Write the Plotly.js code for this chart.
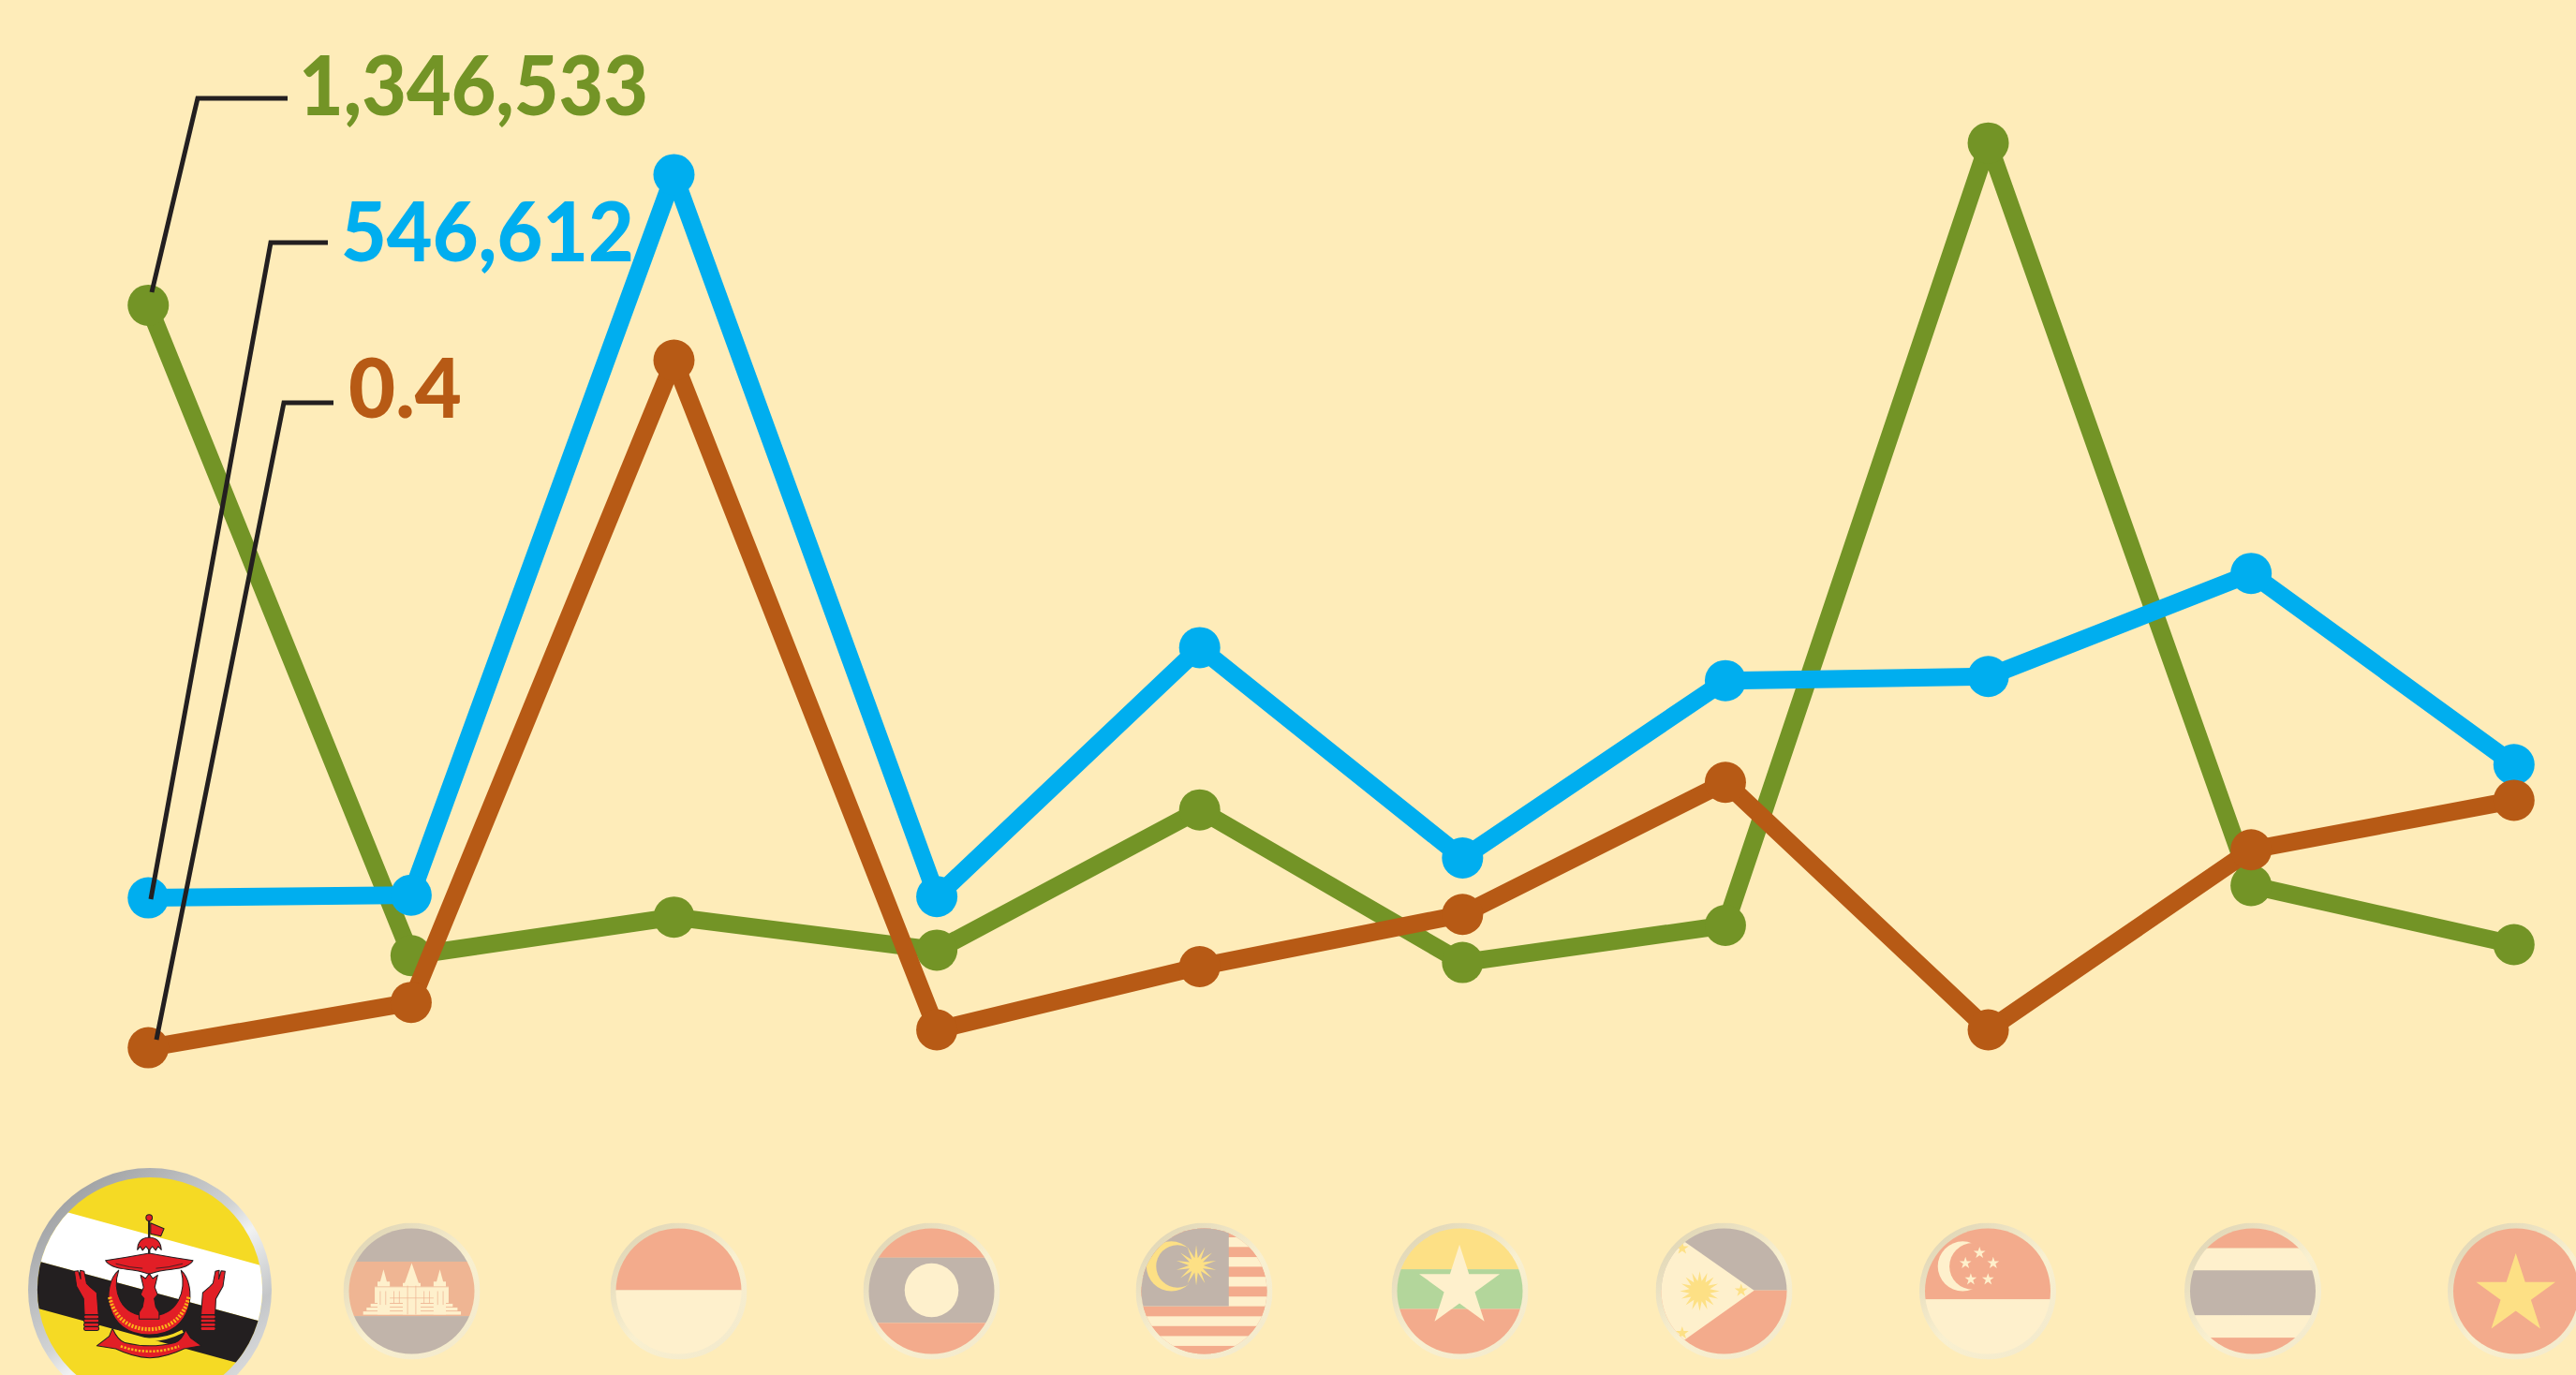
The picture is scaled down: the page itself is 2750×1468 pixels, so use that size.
<!DOCTYPE html>
<html>
<head>
<meta charset="utf-8">
<script src="https://cdn.plot.ly/plotly-3.0.1.min.js"></script>
<style>html,body{margin:0;padding:0;background:#feecb9;overflow:hidden}#chart{width:2750px;height:1468px}</style>
</head>
<body>
<div id="chart"></div>
<script>
// The three series share a relative index (0–100).
const countries = ["Brunei","Cambodia","Indonesia","Laos","Malaysia","Myanmar","Philippines","Singapore","Thailand","Vietnam"];
const seriesGreen  = [77.8,30.5,33.3,30.9,41.1,30.0,32.7,89.6,35.6,31.3];
const seriesBlue   = [34.7,34.9,87.3,34.8,52.9,37.6,50.5,50.8,58.3,44.4];
const seriesOrange = [23.8,27.1,73.8,25.1,29.7,33.5,43.1,25.1,38.2,41.8];
const labelTexts = ["1,346,533","546,612","0.4"];

const W = 2750, H = 1468;
const BG = "#feecb9", GREEN = "#739426", BLUE = "#00aeef", ORANGE = "#b75a15", INK = "#231f20";
const SAL = "#f3ab8c", CRM = "#fef0cc", SLT = "#c1b4aa", YEL = "#fde085", LEAF = "#b3d69b";

function star(cx, cy, R, fill, n, ratio) {
  n = n || 5; ratio = ratio || 0.382; const pts = [];
  for (let i = 0; i < n * 2; i++) {
    const r = i % 2 ? R * ratio : R, a = -Math.PI / 2 + i * Math.PI / n;
    pts.push((cx + r * Math.cos(a)).toFixed(2) + "," + (cy + r * Math.sin(a)).toFixed(2));
  }
  return `<polygon points="${pts.join(" ")}" fill="${fill}"/>`;
}
const rect = (x, y, w, h, f) => `<rect x="${x}" y="${y}" width="${w}" height="${h}" fill="${f}"/>`;

function malaysia() {
  let s = rect(0, 0, 100, 100, SAL);
  for (let i = 0; i < 14; i++) s += rect(0, 3.4 + i * 7.22, 100, 7.22, i % 2 ? CRM : SAL);
  s += rect(0, 0, 68, 61, SLT);
  s += `<circle cx="26" cy="31.8" r="18.2" fill="${YEL}"/><circle cx="30.5" cy="31.8" r="15.6" fill="${SLT}"/>`;
  s += star(44.2, 31.1, 14.8, YEL, 14, 0.36);
  return s;
}
function philippines() {
  let s = rect(0, 0, 100, 49.4, SLT) + rect(0, 49.4, 100, 51, SAL);
  s += `<polygon points="0,0 20.7,13.6 72,49.5 20.7,86 0,100" fill="${CRM}"/>`;
  s += star(32.2, 50, 14.5, YEL, 16, 0.52);
  s += star(19.4, 18.6, 5, YEL) + star(19.4, 80.7, 5, YEL) + star(62.5, 49.5, 5, YEL);
  return s;
}
function singapore() {
  let s = rect(0, 0, 100, 56, SAL) + rect(0, 56, 100, 44, CRM);
  s += `<circle cx="31.7" cy="31.8" r="18.2" fill="${CRM}"/><circle cx="39" cy="31.8" r="17" fill="${SAL}"/>`;
  [[44, 22], [33.7, 29.5], [54, 29.5], [37.6, 41.4], [50.2, 41.4]].forEach(p => { s += star(p[0], p[1], 4.6, CRM); });
  return s;
}
function cambodia() {
  const T = "#efb593";
  let s = rect(0,0,100,28.4,SLT)+rect(0,28.4,100,39.8,T)+rect(0,68.2,100,32,SLT);
  s += `<g fill="${CRM}">
    <rect x="14.5" y="64.8" width="71.5" height="2.4"/><rect x="17" y="62" width="66.5" height="2.2"/>
    <rect x="20" y="59.2" width="60" height="2.2"/><rect x="23" y="46.6" width="54" height="12"/>
    <polygon points="44,46.6 50,29.5 56,46.6"/><rect x="43.5" y="44" width="13" height="23"/>
    <polygon points="26,46.6 29.4,34 32.8,46.6"/><polygon points="67.2,46.6 70.6,34 74,46.6"/>
    <rect x="25" y="43" width="9" height="24"/><rect x="66" y="43" width="9" height="24"/></g>`;
  s += `<g stroke="${T}" stroke-width="0.5" fill="none"><path d="M27,50V60M31,50V60M37,50V59M41,50V59M47,46V67M53,46V67M59,50V59M63,50V59M69,50V60M73,50V60M23,46.8H77M34,55H66"/></g>`;
  return s;
}
function brunei() {
  const RED = "#e21e26", GOLD = "#fbb31a";
  const oS = `stroke="${INK}" stroke-width="0.4" stroke-linejoin="round"`;
  let s = rect(0, 0, 100, 100, "#f5da24");
  s += `<polygon points="0,13.8 100,41.2 100,64.2 0,37.1" fill="#ffffff"/>`;
  s += `<polygon points="0,37.1 100,64.2 100,83.9 0,56.6" fill="${INK}"/>`;
  // pole, flag, umbrella
  s += `<path d="M49.7,20 V46" stroke="${INK}" stroke-width="0.9"/><circle cx="49.7" cy="20.4" r="1.3" fill="${RED}" ${oS}/>`;
  s += `<polygon points="50.3,22.6 55.8,24.9 54.5,28 50.3,27" fill="${RED}" ${oS}/>`;
  s += `<path d="M44.9,33.6 Q45,28.8 49.7,28.5 Q54.4,28.8 54.7,33.6 L53.4,32.2 L52.4,33.8 L51,32.2 L49.7,33.8 L48.4,32.2 L47,33.8 L46,32.2 Z" fill="${RED}" ${oS}/>`;
  // crescent
  s += `<path d="M37.2,42 C30,48 31,68.5 49.7,68.5 C68.4,68.5 69.4,48 62.8,42 C65,50 62,60.8 49.7,60.8 C37.4,60.8 34.6,50 37.2,42 Z" fill="${RED}" ${oS}/>`;
  s += `<path d="M33.5,53 C35.5,62 42,66.2 49.7,66.2 C57.4,66.2 63.9,62 65.9,53" fill="none" stroke="${GOLD}" stroke-width="1.6" stroke-dasharray="0.8 0.6"/>`;
  // wings
  s += `<path d="M31.8,38 Q41,36.6 49.7,35 Q58.4,36.6 67.7,38 Q66,41 59,41.6 Q54,42 49.7,43.6 Q45.4,42 40.6,41.6 Q33.6,41 31.8,38 Z" fill="${RED}" ${oS}/>`;
  s += `<path d="M36,39.3 Q42,41 47,41.2 M63.5,39.3 Q57.5,41 52.5,41.2" stroke="${INK}" stroke-width="0.3" fill="none"/>`;
  // central spike
  s += `<path d="M46.2,44 L48.2,45.4 L49.7,43.4 L51.2,45.4 L53.2,44 L52,49 L53.2,52 L51.8,53.6 L52.4,57 L53.8,59.2 L53.8,62 L45.6,62 L45.6,59.2 L47,57 L47.6,53.6 L46.2,52 L47.4,49 Z" fill="${RED}" ${oS}/>`;
  // hands (left, mirrored about the pole for the right)
  const hand = `<path d="M19,42.4 L20.6,42.2 L21.6,45.6 L21.4,42 L23,42.4 L24,47.4 L25.4,48.8 L28.2,51.2 L28.9,60.2 L23.1,60.2 L22.8,53.7 L19.9,48.6 Z" fill="${RED}" ${oS}/>` +
    [61.2, 62.8, 64.4, 66].map(y => `<rect x="22.9" y="${y - 0.8}" width="6.2" height="1.5" rx="0.7" fill="${RED}" ${oS}/>`).join("");
  s += hand + `<g transform="translate(99.9,0) scale(-1,1)">${hand}</g>`;
  // ribbon
  s += `<path d="M36,67 Q50,74 63.5,67" fill="none" stroke="#f5da24" stroke-width="1.3"/>`;
  s += `<path d="M28.2,73 L33.3,69.1 L34.6,65.9 Q37,71 39.7,71.7 Q45,73 50,73 Q55,73 60.3,71.7 Q63,71 64.7,66.5 L66.7,69.7 L71.2,73 L64,74.2 Q57,77.6 50,78 Q43,77.6 36,74.2 Z" fill="${RED}" ${oS}/>`;
  s += `<path d="M38,73.2 Q50,77.4 62,73.2" fill="none" stroke="${GOLD}" stroke-width="1" stroke-dasharray="0.9 0.6"/>`;
  return s;
}

const flagArt = [
  {cx:160,    r:130, strong:true, art: brunei()},
  {cx:439.5,  r:73, art: cambodia()},
  {cx:724.5,  r:73, art: rect(0,0,100,49.3,SAL)+rect(0,49.3,100,51,CRM)},
  {cx:994.5,  r:73, art: rect(0,0,100,25.5,SAL)+rect(0,25.5,100,47.7,SLT)+rect(0,73.2,100,27,SAL)+`<circle cx="50" cy="49.3" r="19.7" fill="${CRM}"/>`},
  {cx:1285.5, r:73, art: malaysia()},
  {cx:1558.5, r:73, art: rect(0,0,100,34,YEL)+rect(0,34,100,29,LEAF)+rect(0,63,100,37,SAL)+star(49.7,47,31,CRM)},
  {cx:1840.5, r:73, art: philippines()},
  {cx:2122,   r:73, art: singapore()},
  {cx:2405,   r:73, art: rect(0,0,100,18.6,SAL)+rect(0,18.6,100,16.2,CRM)+rect(0,34.8,100,32.9,SLT)+rect(0,67.7,100,16.3,CRM)+rect(0,84,100,16,SAL)},
  {cx:2686,   r:73, art: rect(0,0,100,100,SAL)+star(49.8,52.8,30.5,YEL)}
];
function flagUri(f, i) {
  const stops = f.strong
    ? `<stop offset="0" stop-color="#939598"/><stop offset=".45" stop-color="#d1d3d4"/><stop offset=".55" stop-color="#f1f2f2"/><stop offset=".75" stop-color="#c4c6c8"/><stop offset="1" stop-color="#e6e7e8"/>`
    : `<stop offset="0" stop-color="#ddd3b3"/><stop offset=".55" stop-color="#f9f0d0"/><stop offset="1" stop-color="#f2e9cc"/>`;
  const inner = f.strong ? 46.2 : 45.9;
  const svg = `<svg xmlns="http://www.w3.org/2000/svg" width="${f.r * 4}" height="${f.r * 4}" viewBox="0 0 100 100"><defs><linearGradient id="g${i}" x1="0.1" y1="0" x2="0.9" y2="1">${stops}</linearGradient><clipPath id="c${i}"><circle cx="50" cy="50" r="${inner}"/></clipPath></defs><circle cx="50" cy="50" r="50" fill="url(#g${i})"/><g clip-path="url(#c${i})">${f.art}</g></svg>`;
  return "data:image/svg+xml;charset=utf-8," + encodeURIComponent(svg);
}
const images = flagArt.map((f, i) => ({
  source: flagUri(f, i), xref: "paper", yref: "paper",
  x: f.cx / W, y: 1 - (f.strong ? 1377 : 1378.5) / H, sizex: 2 * f.r / W, sizey: 2 * f.r / H,
  xanchor: "center", yanchor: "middle", sizing: "stretch", layer: "below"
}));

const trace = (y, color, name) => ({
  type: "scatter", mode: "lines+markers", x: countries, y, name,
  line: {color, width: 19}, marker: {color, size: 44}, hoverinfo: "skip", cliponaxis: false
});
const data = [trace(seriesGreen, GREEN, "Green"), trace(seriesBlue, BLUE, "Blue"), trace(seriesOrange, ORANGE, "Orange")];

const px = x => x / W, py = y => 1 - y / H;
const leader = (pts) => ({
  type: "path", xref: "paper", yref: "paper", layer: "above",
  path: "M" + pts.map(p => px(p[0]) + "," + py(p[1])).join(" L"),
  line: {color: INK, width: 5}
});
const shapes = [
  leader([[162,312],[211,105],[307,105]]),
  leader([[161,960],[289,259],[350,259]]),
  leader([[167,1110],[303,430],[356,430]])
];
const labelFont = c => ({family: "Lato, 'Liberation Sans', sans-serif", size: 88, color: c, weight: 900});
const label = (text, y, c) => ({
  text, xref: "paper", yref: "paper", x: 0.2, y: py(y), xanchor: "left", yanchor: "middle",
  showarrow: false, font: labelFont(c), borderpad: 0
});
const annotations = [
  label(labelTexts[0], 89, GREEN),
  label(labelTexts[1], 245, BLUE),
  label(labelTexts[2], 412, ORANGE)
];
// Horizontal extent of each label in the reference (left, width in px).
const labelBoxes = [[319, 373], [364, 313], [372, 121]];

const layout = {
  width: W, height: H, autosize: false,
  margin: {l: 0, r: 0, t: 0, b: 0, pad: 0},
  paper_bgcolor: BG, plot_bgcolor: "rgba(0,0,0,0)", showlegend: false,
  xaxis: {type: "category", categoryorder: "array", categoryarray: countries, range: [-0.564, 9.236], visible: false, fixedrange: true},
  yaxis: {range: [0, 100], visible: false, fixedrange: true},
  images, shapes, annotations
};
Plotly.newPlot("chart", data, layout, {displayModeBar: false, staticPlot: true}).then(() => {
  document.querySelectorAll(".annotation-text").forEach((el, i) => {
    const [left, width] = labelBoxes[i];
    const bb = el.getBBox(), rc = el.getBoundingClientRect();
    const sx = width / bb.width, offset = rc.left - bb.x;
    el.setAttribute("transform", `translate(${left - offset - sx * bb.x},0) scale(${sx},1)`);
  });
});
</script>
</body>
</html>
